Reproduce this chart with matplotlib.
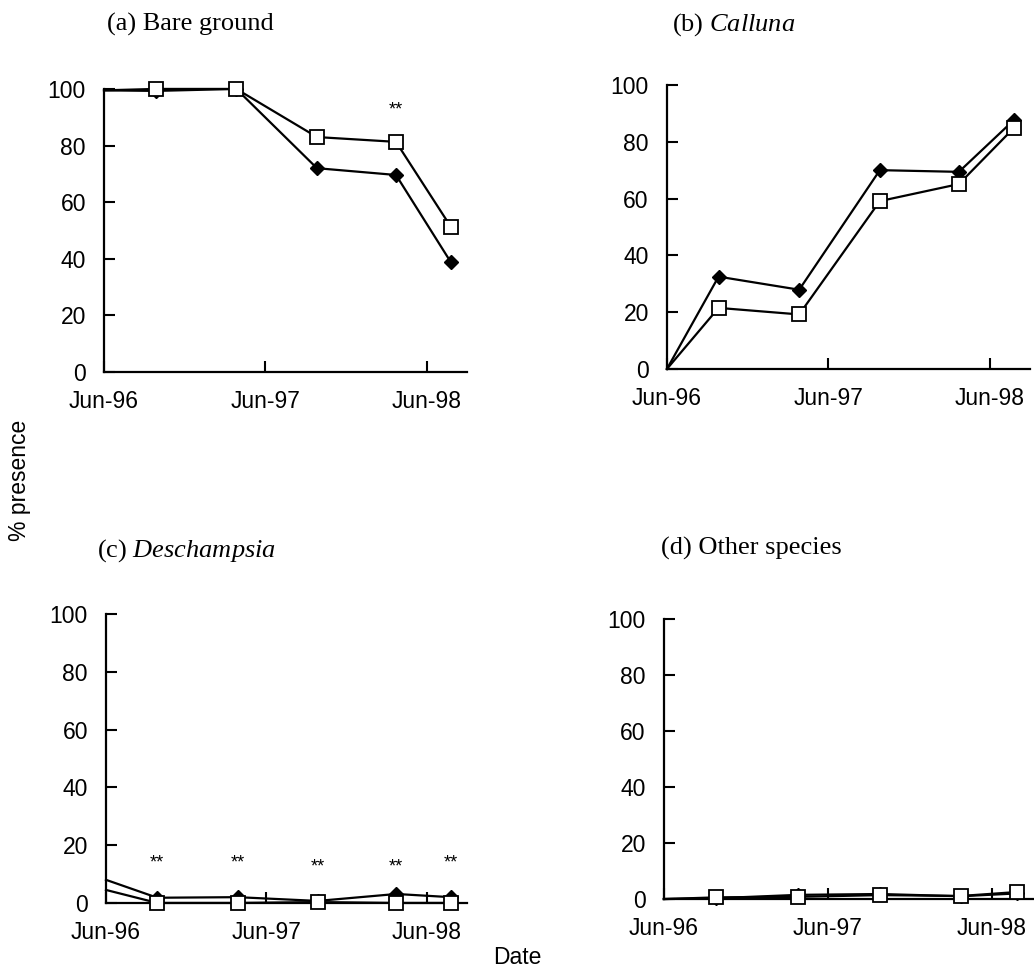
import matplotlib
matplotlib.use('Agg')
import matplotlib.pyplot as plt

plt.rcParams['font.family'] = 'Liberation Sans'
plt.rcParams['mathtext.fontset'] = 'custom'
plt.rcParams['mathtext.rm'] = 'Liberation Serif'
plt.rcParams['mathtext.it'] = 'Liberation Serif:italic'

# sampling dates, years after Jun-96
dates = [0.0, 0.32, 0.82, 1.32, 1.81, 2.15]
tick_pos = [0, 1, 2]
tick_labels = ['Jun-96', 'Jun-97', 'Jun-98']

# filled diamonds / open squares for each panel
bare_filled = [99.5, 99.3, 100.0, 72.0, 69.6, 38.8]
bare_open = [99.5, 100.0, 100.0, 83.0, 81.3, 51.3]
calluna_filled = [0, 32.5, 27.9, 70.0, 69.4, 87.6]
calluna_open = [0, 21.5, 19.2, 59.1, 65.1, 84.8]
desch_filled = [8.0, 1.8, 2.0, 0.7, 3.1, 2.0]
desch_open = [4.5, 0.0, 0.0, 0.3, 0.0, 0.0]
other_filled = [0, 0.3, 1.5, 1.8, 1.0, 2.0]
other_open = [0, 0.6, 0.8, 1.4, 1.1, 2.5]

# significance marks: (date index, height)
bare_sig = [(4, 92.6)]
desch_sig = [(1, 13.8), (2, 13.8), (3, 12.6), (4, 12.6), (5, 13.8)]

panels = [
    ([0.1006, 0.6177, 0.351, 0.2909], bare_filled, bare_open, bare_sig,
     '(a) Bare ground', (107, 24)),
    ([0.6450, 0.6208, 0.351, 0.2919], calluna_filled, calluna_open, [],
     '(b) $\\mathit{Calluna}$', (672, 25)),
    ([0.1025, 0.0720, 0.349, 0.2970], desch_filled, desch_open, desch_sig,
     '(c) $\\mathit{Deschampsia}$', (97, 551)),
    ([0.6420, 0.0760, 0.357, 0.2878], other_filled, other_open, [],
     '(d) Other species', (661, 548)),
]

W, H = 1034, 973
fig = plt.figure(figsize=(W / 100, H / 100), dpi=100)

for rect, filled, opened, sig, title, (tx, ty) in panels:
    ax = fig.add_axes(rect)
    marks = list(range(1, len(dates)))
    ax.plot(dates, filled, color='black', lw=1.6, marker='D', ms=7.5,
            mfc='black', mec='black', markevery=marks, clip_on=False, zorder=3)
    ax.plot(dates, opened, color='black', lw=1.6, marker='s', ms=10.5,
            mfc='white', mec='black', mew=1.3, markevery=marks, clip_on=False, zorder=4)
    for i, h in sig:
        ax.text(dates[i], h, '**', ha='center', va='center', fontsize=13)

    ax.set_xlim(0, 2.25)
    ax.set_ylim(0, 100)
    ax.set_yticks([0, 20, 40, 60, 80, 100])
    ax.set_xticks(tick_pos)
    ax.set_xticklabels(tick_labels)
    ax.tick_params(direction='in', length=8, width=1.5, labelsize=16.5)
    ax.tick_params(axis='y', pad=13)
    ax.tick_params(axis='x', pad=13)
    for s in ['top', 'right']:
        ax.spines[s].set_visible(False)
    for s in ['left', 'bottom']:
        ax.spines[s].set_linewidth(1.6)

    fig.text(tx / W, 1 - ty / H, title, ha='left', va='center',
             fontsize=19, family='Liberation Serif')

fig.text(20 / W, 1 - 480 / H, '% presence', rotation=90, ha='center', va='center',
         fontsize=16.5)
fig.text(517 / W, 1 - 957 / H, 'Date', ha='center', va='center', fontsize=16.5)

fig.savefig('out.png', dpi=100)
